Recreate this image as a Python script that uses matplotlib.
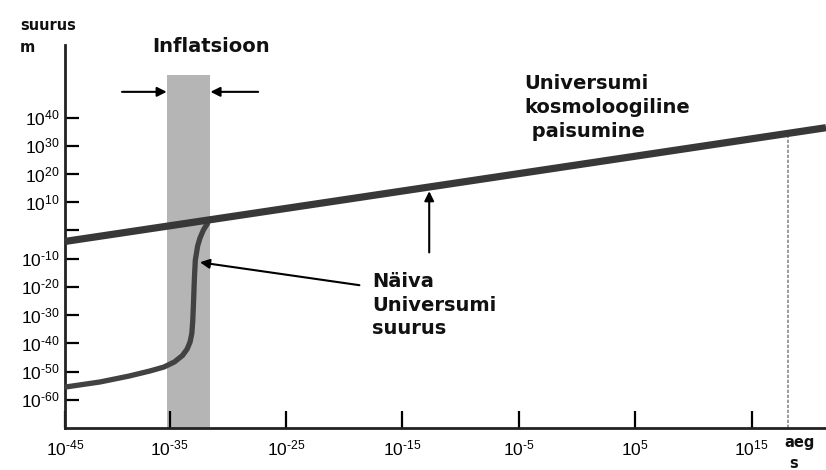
import matplotlib
matplotlib.use("Agg")
import matplotlib.pyplot as plt

# all positions are log10 exponents: time in s, size in m
time_ticks = [-45, -35, -25, -15, -5, 5, 15]
size_ticks = [-60, -50, -40, -30, -20, -10, 0, 10, 20, 30, 40]

expansion_time = [-44.0, 21.4]
expansion_size = [-3.9, 36.4]

apparent_time = [-44.0, -41.0, -38.5, -36.7, -35.5, -34.6, -33.9, -33.5, -33.25,
                 -33.1, -33.02, -32.95, -32.88, -32.8, -32.6, -32.4, -32.1, -31.75]
apparent_size = [-55.5, -53.7, -51.6, -49.8, -48.4, -46.6, -44.3, -42.0, -39.5,
                 -36.5, -32.0, -25.0, -17.0, -10.5, -5.5, -2.7, 0.2, 2.5]

inflation_start, inflation_end, inflation_top = -35.26, -31.5, 55.1
now_time = 18.1

T_MIN, T_MAX = -44.0, 21.4
S_MIN, S_MAX = -70.0, 65.7

plt.rcParams["mathtext.fontset"] = "custom"
plt.rcParams["mathtext.rm"] = "Liberation Sans"
plt.rcParams["mathtext.it"] = "Liberation Sans"
plt.rcParams["axes.unicode_minus"] = False


def power_label(e):
    # short hyphen like the original, not the wide math minus
    return "$10^{" + str(e).replace("-", "\u2010") + "}$"


fig = plt.figure(figsize=(8.26, 4.70), dpi=100)
ax = fig.add_axes([65 / 826, 42 / 470, 761 / 826, 383 / 470])
ax.set_xlim(T_MIN, T_MAX)
ax.set_ylim(S_MIN, S_MAX)

# inflation band
ax.fill_between([inflation_start, inflation_end], S_MIN, inflation_top,
                color="#b5b5b5", lw=0, zorder=1)

# cosmological expansion
ax.plot(expansion_time, expansion_size, color="#383838", lw=5.2,
        solid_capstyle="butt", zorder=4)

# apparent size of the universe
ax.plot(apparent_time, apparent_size, color="#424242", lw=3.8,
        solid_capstyle="round", solid_joinstyle="round", zorder=3)

# present day marker
now_size = expansion_size[0] + (now_time - expansion_time[0]) * \
    (expansion_size[1] - expansion_size[0]) / (expansion_time[1] - expansion_time[0])
ax.plot([now_time, now_time], [S_MIN, now_size - 1.2], color="#8a8a8a",
        lw=1.2, ls=(0, (2, 1)), zorder=2)

arrow = dict(arrowstyle="-|>", color="black", lw=1.5, mutation_scale=14,
             shrinkA=0, shrinkB=0)
ax.annotate("", xy=(inflation_start, 49.1), xytext=(-39.1, 49.1),
            arrowprops=arrow, annotation_clip=False)
ax.annotate("", xy=(inflation_end, 49.1), xytext=(-27.4, 49.1),
            arrowprops=arrow, annotation_clip=False)
ax.annotate("", xy=(-12.7, 13.9), xytext=(-12.7, -7.8), arrowprops=arrow)
ax.annotate("", xy=(-32.4, -11.3), xytext=(-18.7, -19.4), arrowprops=arrow)

bold = dict(fontsize=14, fontweight="bold", family="DejaVu Sans", color="#111111")
ax.text(-36.5, 65.0, "Inflatsioon", ha="left", va="center", clip_on=False, **bold)
ax.text(-4.5, 55.6, "Universumi\nkosmoloogiline\n paisumine", ha="left",
        va="top", linespacing=1.35, **bold)
ax.text(-17.6, -26.5, "Näiva\nUniversumi\nsuurus", ha="left", va="center",
        linespacing=1.3, **bold)

small = dict(fontsize=10.5, fontweight="bold", family="DejaVu Sans", color="#111111")
fig.text(20 / 826, 1 - 25 / 470, "suurus", ha="left", va="center", **small)
fig.text(20 / 826, 1 - 48 / 470, "m", ha="left", va="center", **small)
fig.text(784 / 826, 1 - 443 / 470, "aeg", ha="left", va="center", **small)
fig.text(789 / 826, 1 - 464 / 470, "s", ha="left", va="center", **small)

# axes
tick_pos = [max(t, T_MIN) for t in time_ticks]
ax.set_xticks(tick_pos)
ax.set_xticklabels([power_label(t) for t in time_ticks])
ax.set_yticks(size_ticks)
ax.set_yticklabels(["" if s == 0 else power_label(s) for s in size_ticks])
ax.tick_params(axis="x", direction="in", length=12, width=1.6, pad=8,
               labelsize=12.5, colors="black")
ax.tick_params(axis="y", direction="in", length=10, width=1.6, pad=4,
               labelsize=12.5, colors="black")
for side in ("top", "right"):
    ax.spines[side].set_visible(False)
for side in ("left", "bottom"):
    ax.spines[side].set_linewidth(2)
    ax.spines[side].set_color("#222222")

fig.savefig("out.png", dpi=100)
